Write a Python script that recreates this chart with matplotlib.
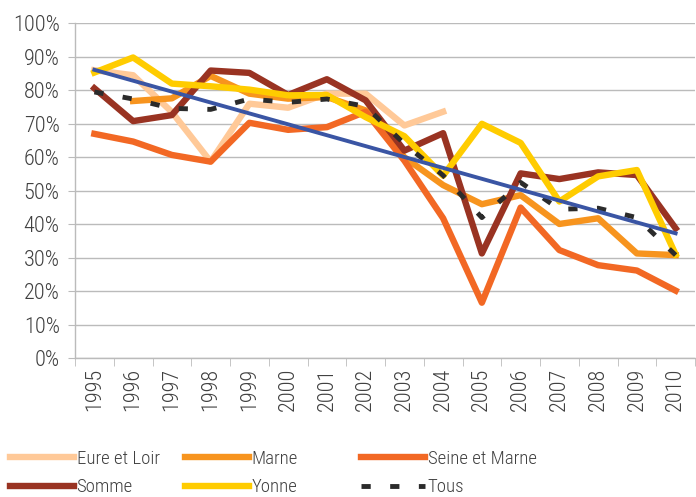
import numpy as np
import matplotlib
matplotlib.use("Agg")
import matplotlib.pyplot as plt
from matplotlib.ticker import FuncFormatter, FixedLocator

plt.rcParams['font.family'] = ['Roboto Condensed', 'Roboto', 'DejaVu Sans']
plt.rcParams['font.weight'] = 'light'

# data (percent)
years = [str(y) for y in range(1995, 2011)]
nan = np.nan
eure = [86, 84.5, 73.5, 58.7, 76, 74.8, 79, 79, 69.5, 73.6, nan, nan, nan, nan, nan, nan]
marne = [nan, 76.8, 77.6, 84.3, 79, 77.5, 78, 74, 60, 51.7, 46, 48.7, 40.1, 41.8, 31.3, 30.8]
seine = [67, 64.7, 60.7, 58.7, 70.3, 68.2, 69, 73.6, 59, 41.8, 16.6, 45, 32.3, 27.8, 26.2, 20.2]
somme = [80.6, 70.8, 72.6, 85.9, 85.2, 78.6, 83.3, 77, 62, 67.2, 31.3, 55.2, 53.5, 55.5, 54.7, 38.8]
yonne = [85.3, 89.8, 82, 81.2, 80.2, 78.5, 78.6, 72, 66.3, 54.5, 70, 64.3, 46.8, 54.3, 56.2, 31]
tous = [79.5, 77.4, 74.6, 74.3, 77.4, 76.4, 77.4, 75.2, 64, 54.6, 42, 52.5, 44.5, 44.8, 42, 30.8]

txt = '#404040'
grid = '#BBBBBB'

fig = plt.figure(figsize=(6.96, 4.97), dpi=100)
ax = fig.add_axes([75/696, 1-358.3/497, 620/696, 335/497])

x = np.arange(len(years))
lw = 4.6
h_eure, = ax.plot(x, eure, color='#FFC998', lw=lw, label='Eure et Loir')
h_marne, = ax.plot(x, marne, color='#F7941E', lw=lw, label='Marne')
h_seine, = ax.plot(x, seine, color='#F26824', lw=lw, label='Seine et Marne')
h_somme, = ax.plot(x, somme, color='#993322', lw=lw, label='Somme')
h_yonne, = ax.plot(x, yonne, color='#FFCC00', lw=lw, label='Yonne')
h_tous, = ax.plot(x, tous, color='#2B2B2B', lw=3.5, dashes=(1.9, 4.0),
                  dash_capstyle='butt', label='Tous')

# linear trend of "Tous"
p = np.polyfit(x, tous, 1)
ax.plot(x, np.polyval(p, x), color='#3A55A4', lw=2.8)

ax.set_xlim(-0.5, len(years) - 0.5)
ax.set_ylim(0, 100)
ax.set_yticks(np.arange(0, 101, 10))
ax.yaxis.set_major_formatter(FuncFormatter(lambda v, pos: '%d%%' % v))
ax.yaxis.grid(True, color=grid, lw=1.0)
ax.set_axisbelow(True)

ax.set_xticks(x)
ax.set_xticklabels(years, rotation=90)
ax.xaxis.set_minor_locator(FixedLocator(np.arange(-0.5, len(years), 1)))
ax.tick_params(axis='x', which='major', length=0, pad=7)
ax.tick_params(axis='x', which='minor', length=6, color=grid, direction='out')
ax.tick_params(axis='y', length=5, color=grid, pad=6)
ax.tick_params(labelsize=16, labelcolor=txt)

for s in ['top', 'right']:
    ax.spines[s].set_visible(False)
for s in ['left', 'bottom']:
    ax.spines[s].set_color(grid)
    ax.spines[s].set_linewidth(1.0)

# legend in three columns, placed like the original
cols = [([h_eure, h_somme], 10), ([h_marne, h_yonne], 185), ([h_seine, h_tous], 361)]
for hs, px in cols:
    leg = fig.legend(handles=hs, loc='upper left', bbox_to_anchor=(px/696, 1-450/497),
                     frameon=False, fontsize=13.5, handlelength=3.4, handletextpad=0.15,
                     labelspacing=0.55, borderpad=0, borderaxespad=0)
    for t in leg.get_texts():
        t.set_color(txt)

fig.savefig('out.png', dpi=100)
